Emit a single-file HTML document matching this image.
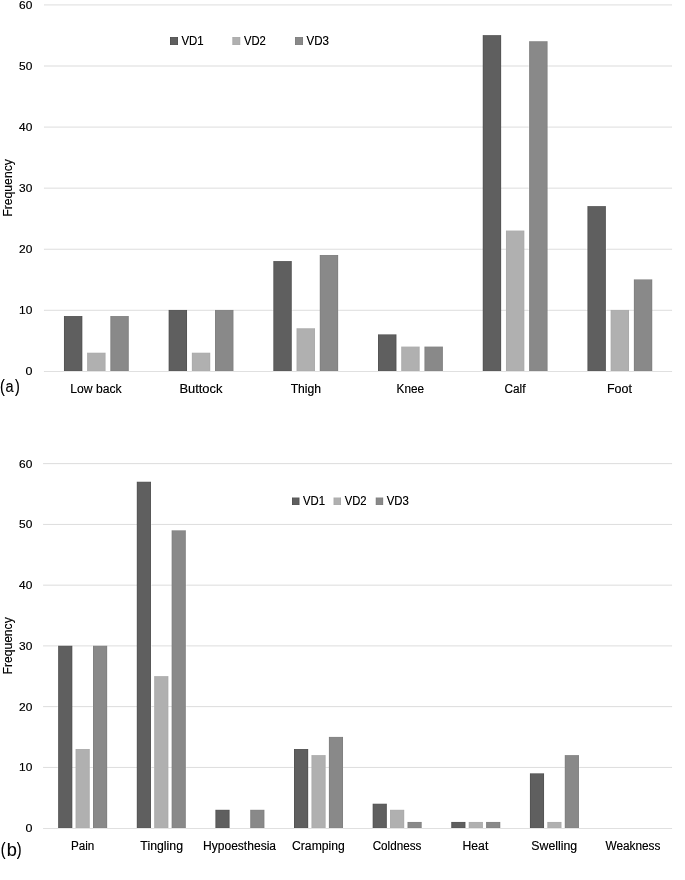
<!DOCTYPE html>
<html><head><meta charset="utf-8"><style>
html,body{margin:0;padding:0;background:#fff;}
svg{display:block;filter:grayscale(1);}
text{font-family:"Liberation Sans",sans-serif;fill:#111;stroke:#111;stroke-width:0.2px;}
</style></head><body>
<svg width="685" height="880" viewBox="0 0 685 880">
<defs><filter id="sh" x="0" y="0" width="685" height="880" filterUnits="userSpaceOnUse" color-interpolation-filters="sRGB"><feConvolveMatrix order="3" kernelMatrix="0 -0.03 0 -0.07 1.2000000000000002 -0.07 0 -0.03 0" edgeMode="duplicate" preserveAlpha="true"/></filter></defs>
<g filter="url(#sh)">
<rect width="685" height="880" fill="#fff"/>
<rect x="43.90" y="309.78" width="628.20" height="1" fill="#dedede"/>
<rect x="43.90" y="248.71" width="628.20" height="1" fill="#dedede"/>
<rect x="43.90" y="187.64" width="628.20" height="1" fill="#dedede"/>
<rect x="43.90" y="126.57" width="628.20" height="1" fill="#dedede"/>
<rect x="43.90" y="65.50" width="628.20" height="1" fill="#dedede"/>
<rect x="43.90" y="4.43" width="628.20" height="1" fill="#dedede"/>
<rect x="43.90" y="371.00" width="628.20" height="1" fill="#e2e2e2"/>
<rect x="63.91" y="316.04" width="18.47" height="54.96" fill="#5f5f5f"/>
<rect x="87.11" y="352.68" width="18.47" height="18.32" fill="#b0b0b0"/>
<rect x="110.32" y="316.04" width="18.47" height="54.96" fill="#898989"/>
<rect x="168.61" y="309.93" width="18.47" height="61.07" fill="#5f5f5f"/>
<rect x="191.81" y="352.68" width="18.47" height="18.32" fill="#b0b0b0"/>
<rect x="215.02" y="309.93" width="18.47" height="61.07" fill="#898989"/>
<rect x="273.31" y="261.07" width="18.47" height="109.93" fill="#5f5f5f"/>
<rect x="296.51" y="328.25" width="18.47" height="42.75" fill="#b0b0b0"/>
<rect x="319.72" y="254.97" width="18.47" height="116.03" fill="#898989"/>
<rect x="378.01" y="334.36" width="18.47" height="36.64" fill="#5f5f5f"/>
<rect x="401.21" y="346.57" width="18.47" height="24.43" fill="#b0b0b0"/>
<rect x="424.42" y="346.57" width="18.47" height="24.43" fill="#898989"/>
<rect x="482.71" y="35.12" width="18.47" height="335.88" fill="#5f5f5f"/>
<rect x="505.91" y="230.54" width="18.47" height="140.46" fill="#b0b0b0"/>
<rect x="529.12" y="41.22" width="18.47" height="329.78" fill="#898989"/>
<rect x="587.41" y="206.11" width="18.47" height="164.89" fill="#5f5f5f"/>
<rect x="610.61" y="309.93" width="18.47" height="61.07" fill="#b0b0b0"/>
<rect x="633.82" y="279.39" width="18.47" height="91.61" fill="#898989"/>
<rect x="43.10" y="766.90" width="629.00" height="1" fill="#dedede"/>
<rect x="43.10" y="706.15" width="629.00" height="1" fill="#dedede"/>
<rect x="43.10" y="645.40" width="629.00" height="1" fill="#dedede"/>
<rect x="43.10" y="584.65" width="629.00" height="1" fill="#dedede"/>
<rect x="43.10" y="523.90" width="629.00" height="1" fill="#dedede"/>
<rect x="43.10" y="463.15" width="629.00" height="1" fill="#dedede"/>
<rect x="43.10" y="828.00" width="629.00" height="1" fill="#e2e2e2"/>
<rect x="58.13" y="645.75" width="14.22" height="182.25" fill="#5f5f5f"/>
<rect x="75.55" y="749.02" width="14.22" height="78.98" fill="#b0b0b0"/>
<rect x="92.98" y="645.75" width="14.22" height="182.25" fill="#898989"/>
<rect x="136.75" y="481.72" width="14.22" height="346.28" fill="#5f5f5f"/>
<rect x="154.18" y="676.12" width="14.22" height="151.88" fill="#b0b0b0"/>
<rect x="171.60" y="530.33" width="14.22" height="297.68" fill="#898989"/>
<rect x="215.38" y="809.77" width="14.22" height="18.23" fill="#5f5f5f"/>
<rect x="250.23" y="809.77" width="14.22" height="18.23" fill="#898989"/>
<rect x="294.00" y="749.02" width="14.22" height="78.98" fill="#5f5f5f"/>
<rect x="311.43" y="755.10" width="14.22" height="72.90" fill="#b0b0b0"/>
<rect x="328.85" y="736.88" width="14.22" height="91.12" fill="#898989"/>
<rect x="372.63" y="803.70" width="14.22" height="24.30" fill="#5f5f5f"/>
<rect x="390.05" y="809.77" width="14.22" height="18.23" fill="#b0b0b0"/>
<rect x="407.48" y="821.92" width="14.22" height="6.08" fill="#898989"/>
<rect x="451.25" y="821.92" width="14.22" height="6.08" fill="#5f5f5f"/>
<rect x="468.68" y="821.92" width="14.22" height="6.08" fill="#b0b0b0"/>
<rect x="486.10" y="821.92" width="14.22" height="6.08" fill="#898989"/>
<rect x="529.88" y="773.33" width="14.22" height="54.68" fill="#5f5f5f"/>
<rect x="547.30" y="821.92" width="14.22" height="6.08" fill="#b0b0b0"/>
<rect x="564.73" y="755.10" width="14.22" height="72.90" fill="#898989"/>
<rect x="170" y="37" width="8" height="8" fill="#5f5f5f"/>
<rect x="232.3" y="37" width="8" height="8" fill="#b0b0b0"/>
<rect x="295" y="37" width="8" height="8" fill="#898989"/>
<rect x="292" y="497.5" width="7.5" height="7.5" fill="#5f5f5f"/>
<rect x="333.5" y="497.5" width="7.5" height="7.5" fill="#b0b0b0"/>
<rect x="375.7" y="497.5" width="7.5" height="7.5" fill="#898989"/>
<text x="32.35" y="375.35" text-anchor="end" font-size="11.8" textLength="6.95" lengthAdjust="spacingAndGlyphs">0</text>
<text x="32.35" y="314.28" text-anchor="end" font-size="11.8" textLength="13.25" lengthAdjust="spacingAndGlyphs">10</text>
<text x="32.35" y="253.21" text-anchor="end" font-size="11.8" textLength="13.25" lengthAdjust="spacingAndGlyphs">20</text>
<text x="32.35" y="192.14" text-anchor="end" font-size="11.8" textLength="13.25" lengthAdjust="spacingAndGlyphs">30</text>
<text x="32.35" y="131.07" text-anchor="end" font-size="11.8" textLength="13.25" lengthAdjust="spacingAndGlyphs">40</text>
<text x="32.35" y="70.00" text-anchor="end" font-size="11.8" textLength="13.25" lengthAdjust="spacingAndGlyphs">50</text>
<text x="32.35" y="8.93" text-anchor="end" font-size="11.8" textLength="13.25" lengthAdjust="spacingAndGlyphs">60</text>
<text x="32.35" y="832.15" text-anchor="end" font-size="11.8" textLength="6.95" lengthAdjust="spacingAndGlyphs">0</text>
<text x="32.35" y="771.40" text-anchor="end" font-size="11.8" textLength="13.25" lengthAdjust="spacingAndGlyphs">10</text>
<text x="32.35" y="710.65" text-anchor="end" font-size="11.8" textLength="13.25" lengthAdjust="spacingAndGlyphs">20</text>
<text x="32.35" y="649.90" text-anchor="end" font-size="11.8" textLength="13.25" lengthAdjust="spacingAndGlyphs">30</text>
<text x="32.35" y="589.15" text-anchor="end" font-size="11.8" textLength="13.25" lengthAdjust="spacingAndGlyphs">40</text>
<text x="32.35" y="528.40" text-anchor="end" font-size="11.8" textLength="13.25" lengthAdjust="spacingAndGlyphs">50</text>
<text x="32.35" y="467.65" text-anchor="end" font-size="11.8" textLength="13.25" lengthAdjust="spacingAndGlyphs">60</text>
<text x="96.00" y="392.50" text-anchor="middle" font-size="12" textLength="51.35" lengthAdjust="spacingAndGlyphs">Low back</text>
<text x="200.91" y="392.50" text-anchor="middle" font-size="12" textLength="42.99" lengthAdjust="spacingAndGlyphs">Buttock</text>
<text x="305.90" y="392.50" text-anchor="middle" font-size="12" textLength="30.43" lengthAdjust="spacingAndGlyphs">Thigh</text>
<text x="410.30" y="392.50" text-anchor="middle" font-size="12" textLength="27.48" lengthAdjust="spacingAndGlyphs">Knee</text>
<text x="514.93" y="392.50" text-anchor="middle" font-size="12" textLength="21.02" lengthAdjust="spacingAndGlyphs">Calf</text>
<text x="619.47" y="392.50" text-anchor="middle" font-size="12" textLength="24.90" lengthAdjust="spacingAndGlyphs">Foot</text>
<text x="82.67" y="849.70" text-anchor="middle" font-size="12" textLength="23.36" lengthAdjust="spacingAndGlyphs">Pain</text>
<text x="161.69" y="849.70" text-anchor="middle" font-size="12" textLength="42.69" lengthAdjust="spacingAndGlyphs">Tingling</text>
<text x="239.52" y="849.70" text-anchor="middle" font-size="12" textLength="73.07" lengthAdjust="spacingAndGlyphs">Hypoesthesia</text>
<text x="318.43" y="849.70" text-anchor="middle" font-size="12" textLength="52.80" lengthAdjust="spacingAndGlyphs">Cramping</text>
<text x="397.03" y="849.70" text-anchor="middle" font-size="12" textLength="48.71" lengthAdjust="spacingAndGlyphs">Coldness</text>
<text x="475.42" y="849.70" text-anchor="middle" font-size="12" textLength="25.73" lengthAdjust="spacingAndGlyphs">Heat</text>
<text x="554.29" y="849.70" text-anchor="middle" font-size="12" textLength="45.89" lengthAdjust="spacingAndGlyphs">Swelling</text>
<text x="632.94" y="849.70" text-anchor="middle" font-size="12" textLength="54.97" lengthAdjust="spacingAndGlyphs">Weakness</text>
<text x="181.45" y="44.80" text-anchor="start" font-size="12" textLength="22.21" lengthAdjust="spacingAndGlyphs">VD1</text>
<text x="243.94" y="44.80" text-anchor="start" font-size="12" textLength="21.94" lengthAdjust="spacingAndGlyphs">VD2</text>
<text x="306.45" y="44.80" text-anchor="start" font-size="12" textLength="22.53" lengthAdjust="spacingAndGlyphs">VD3</text>
<text x="302.95" y="505.00" text-anchor="start" font-size="12" textLength="22.03" lengthAdjust="spacingAndGlyphs">VD1</text>
<text x="344.76" y="505.00" text-anchor="start" font-size="12" textLength="21.85" lengthAdjust="spacingAndGlyphs">VD2</text>
<text x="386.77" y="505.00" text-anchor="start" font-size="12" textLength="22.18" lengthAdjust="spacingAndGlyphs">VD3</text>
<text transform="translate(12.4,187.93) rotate(-90)" text-anchor="middle" font-size="12" textLength="57.63" lengthAdjust="spacingAndGlyphs">Frequency</text>
<text transform="translate(12.1,645.88) rotate(-90)" text-anchor="middle" font-size="12" textLength="57.13" lengthAdjust="spacingAndGlyphs">Frequency</text>
<text x="-0.10" y="392.00" font-size="18.6" textLength="4.83" lengthAdjust="spacingAndGlyphs">(</text>
<text x="5.57" y="392.00" font-size="17.4" textLength="8.06" lengthAdjust="spacingAndGlyphs">a</text>
<text x="14.97" y="392.00" font-size="18.6" textLength="4.83" lengthAdjust="spacingAndGlyphs">)</text>
<text x="0.85" y="855.40" font-size="18.6" textLength="4.83" lengthAdjust="spacingAndGlyphs">(</text>
<text x="6.73" y="855.60" font-size="18.2">b</text>
<text x="16.67" y="855.40" font-size="18.6" textLength="4.83" lengthAdjust="spacingAndGlyphs">)</text>
</g>

</svg></body></html>
